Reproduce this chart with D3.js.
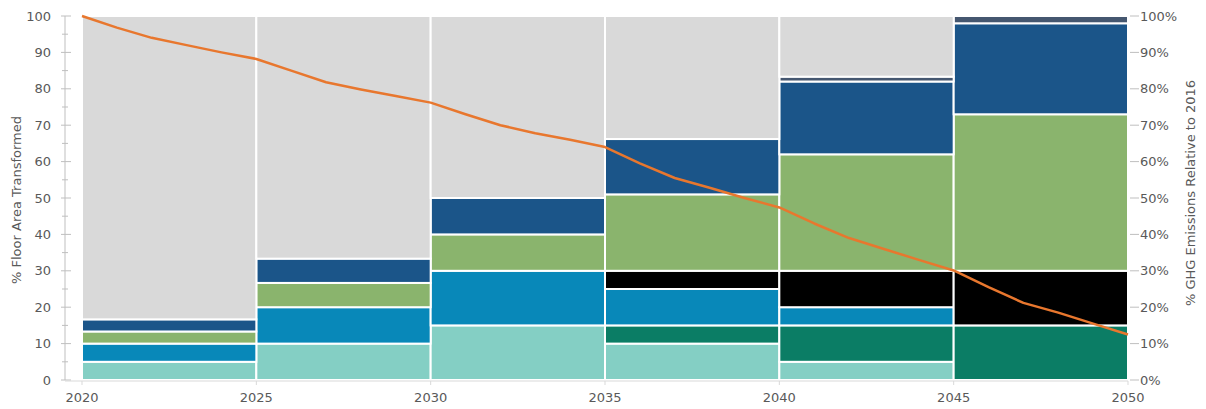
<!DOCTYPE html>
<html>
<head>
<meta charset="utf-8">
<script src="https://cdn.jsdelivr.net/npm/d3@7"></script>
<style>
  html, body { margin: 0; padding: 0; background: #ffffff; }
  svg text { font-family: "DejaVu Sans", Verdana, sans-serif; fill: #595959; }
</style>
</head>
<body>
<svg id="chart" width="1206" height="409"></svg>
<script>
// ---- Data ----
const periods = [2020, 2025, 2030, 2035, 2040, 2045];
const periodLength = 5;

const lightTeal = [5, 10, 15, 10, 5, 0];
const darkTeal  = [0, 0, 0, 5, 10, 15];
const midBlue   = [5, 10, 15, 10, 5, 0];
const blackSeg  = [0, 0, 0, 5, 10, 15];
const greenSeg  = [3.33, 6.67, 10, 21, 32, 43];
const darkBlue  = [3.33, 6.67, 10, 15.2, 20, 25];
const slateSeg  = [0, 0, 0, 0, 1.33, 2];

const emissionYears = [2020,2021,2022,2023,2024,2025,2026,2027,2028,2029,2030,2031,2032,2033,2034,2035,2036,2037,2038,2039,2040,2041,2042,2043,2044,2045,2046,2047,2048,2049,2050];
const emissionPct   = [100,96.8,94,92,90,88.2,85,81.8,79.8,78,76.2,73,70,67.8,66,64,59.5,55.5,52.8,50,47.4,43,39,36,33,30.1,25.5,21.2,18.5,15.5,12.5];

const leftTicks  = [0,10,20,30,40,50,60,70,80,90,100];
const rightTicks = [0,0.1,0.2,0.3,0.4,0.5,0.6,0.7,0.8,0.9,1.0];
const xTicks     = [2020,2025,2030,2035,2040,2045,2050];

const seriesNames  = ["lightTeal","darkTeal","midBlue","black","green","darkBlue","slate","rest"];
const seriesColors = ["#84cfc4","#0b7d65","#0888b9","#000000","#8ab46d","#1b5589","#455770","#d9d9d9"];

// ---- Build table ----
const table = periods.map((p, i) => {
  const row = {
    period: p,
    lightTeal: lightTeal[i], darkTeal: darkTeal[i], midBlue: midBlue[i],
    black: blackSeg[i], green: greenSeg[i], darkBlue: darkBlue[i], slate: slateSeg[i]
  };
  const total = lightTeal[i]+darkTeal[i]+midBlue[i]+blackSeg[i]+greenSeg[i]+darkBlue[i]+slateSeg[i];
  row.rest = Math.max(0, 100 - total);
  return row;
});

// ---- Scales ----
const svg = d3.select("#chart");
const x = d3.scaleLinear().domain([2020, 2050]).range([82, 1128]);
const y = d3.scaleLinear().domain([0, 100]).range([380, 16]);
const yR = d3.scaleLinear().domain([0, 1]).range([380, 16]);
const color = d3.scaleOrdinal().domain(seriesNames).range(seriesColors);

const stack = d3.stack().keys(seriesNames);
const layers = stack(table);

// ---- Bars ----
const g = svg.append("g");
layers.forEach(layer => {
  g.selectAll(null)
    .data(layer.filter(d => d[1] - d[0] > 0))
    .enter().append("rect")
    .attr("x", d => x(d.data.period))
    .attr("width", d => x(d.data.period + periodLength) - x(d.data.period))
    .attr("y", d => y(d[1]))
    .attr("height", d => y(d[0]) - y(d[1]))
    .attr("fill", color(layer.key))
    .attr("stroke", "#ffffff")
    .attr("stroke-width", 2);
});

// ---- Left axis ----
const leftAxis = svg.append("g").attr("transform", "translate(65,0)");
leftAxis.append("line").attr("x1",0).attr("x2",0).attr("y1",y(100)).attr("y2",y(0)).attr("stroke","#bfbfbf");
leftAxis.selectAll(".maj").data(leftTicks).enter().append("line")
  .attr("x1",-4).attr("x2",6).attr("y1",d=>y(d)).attr("y2",d=>y(d)).attr("stroke","#bfbfbf");
leftAxis.selectAll(".min").data(leftTicks.slice(0,-1).map(d=>d+5)).enter().append("line")
  .attr("x1",-3).attr("x2",3).attr("y1",d=>y(d)).attr("y2",d=>y(d)).attr("stroke","#bfbfbf");
leftAxis.selectAll(".lbl").data(leftTicks).enter().append("text")
  .attr("x",-14).attr("y",d=>y(d)).attr("dy","0.35em").attr("text-anchor","end")
  .attr("font-size",13).text(d=>d);

// ---- Bottom axis ----
const bottom = svg.append("g");
bottom.append("line").attr("x1",65).attr("x2",x(2050)).attr("y1",381).attr("y2",381).attr("stroke","#d9d9d9");
bottom.selectAll(".bt").data(xTicks).enter().append("line")
  .attr("x1",d=>x(d)).attr("x2",d=>x(d)).attr("y1",381).attr("y2",385).attr("stroke","#d9d9d9");
bottom.selectAll(".bl").data(xTicks).enter().append("text")
  .attr("x",d=>x(d)).attr("y",397).attr("dy","0.35em").attr("text-anchor","middle")
  .attr("font-size",13).text(d=>d);

// ---- Right axis ----
const rightAxis = svg.append("g");
rightAxis.selectAll(".rt").data(rightTicks).enter().append("line")
  .attr("x1",1130).attr("x2",1139).attr("y1",d=>yR(d)).attr("y2",d=>yR(d)).attr("stroke","#bfbfbf");
rightAxis.selectAll(".rl").data(rightTicks).enter().append("text")
  .attr("x",1140).attr("y",d=>yR(d)).attr("dy","0.35em").attr("text-anchor","start")
  .attr("font-size",13).text(d=>d3.format(".0%")(d));

// ---- Line ----
const line = d3.line().x((d,i)=>x(emissionYears[i])).y(d=>yR(d/100));
svg.append("path").datum(emissionPct)
  .attr("d", line).attr("fill","none").attr("stroke","#e8772e").attr("stroke-width",2.5)
  .attr("stroke-linejoin","round");

// ---- Axis titles ----
svg.append("text").attr("transform","translate(21,200) rotate(-90)")
  .attr("text-anchor","middle").attr("font-size",13).text("% Floor Area Transformed");
svg.append("text").attr("transform","translate(1195,193) rotate(-90)")
  .attr("text-anchor","middle").attr("font-size",13).text("% GHG Emissions Relative to 2016");
</script>
</body>
</html>
